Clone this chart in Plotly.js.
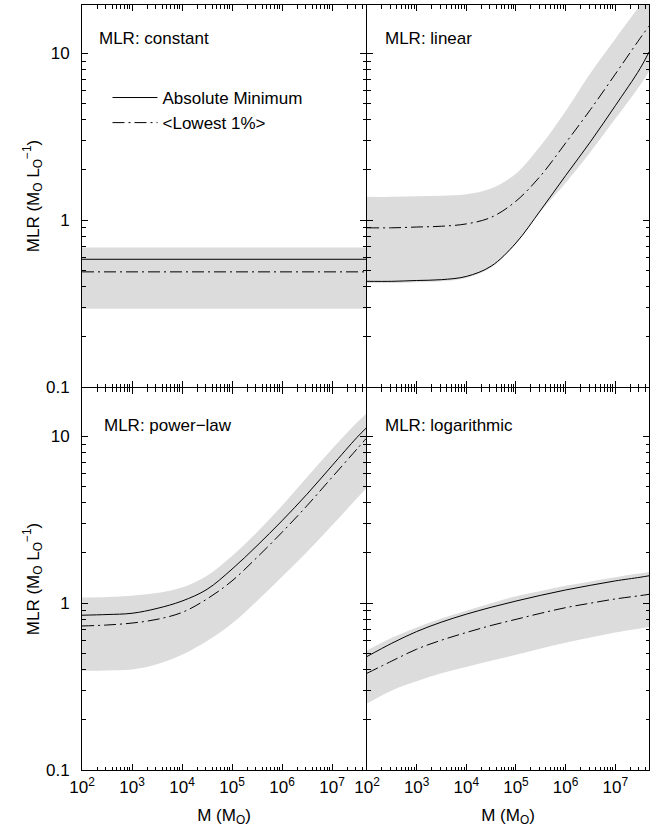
<!DOCTYPE html>
<html>
<head>
<meta charset="utf-8">
<script src="https://cdn.plot.ly/plotly-3.0.1.min.js"></script>
<style>html,body{margin:0;padding:0;background:#fff;}#chart{width:657px;height:829px;}</style>
</head>
<body>
<div id="chart"></div>
<script>
// Mass grid (solar masses)
const massM = [1e2, 3.16e2, 1e3, 3.16e3, 1e4, 3.16e4, 1e5, 3.16e5, 1e6, 3.16e6, 1e7, 3.16e7, 4.8e7];
const massConst = [1e2, 4.8e7];

// Panel: constant
const constAbsMin = [0.583, 0.583];
const constLow1 = [0.49, 0.49];
const constBandTop = [0.686, 0.686];
const constBandBot = [0.295, 0.295];

// Panel: linear
const linAbsMin = [0.43, 0.43, 0.435, 0.44, 0.46, 0.53, 0.73, 1.15, 1.85, 2.95, 4.85, 8.1, 10.2];
const linLow1 = [0.90, 0.90, 0.91, 0.92, 0.95, 1.04, 1.3, 1.85, 2.9, 4.6, 7.5, 12.3, 14.6];
const linBandTop = [1.38, 1.38, 1.39, 1.40, 1.43, 1.55, 1.9, 2.8, 4.5, 7.6, 12.2, 19.4, 23];
const linBandBot = [0.42, 0.42, 0.425, 0.43, 0.45, 0.52, 0.72, 1.13, 1.67, 2.56, 4.05, 6.45, 7.8];

// Panel: power-law
const powAbsMin = [0.847, 0.855, 0.87, 0.93, 1.03, 1.21, 1.6, 2.21, 3.12, 4.5, 6.67, 9.86, 11.2];
const powLow1 = [0.73, 0.74, 0.76, 0.80, 0.88, 1.06, 1.36, 1.88, 2.66, 3.84, 5.68, 8.4, 9.7];
const powBandTop = [1.08, 1.09, 1.11, 1.15, 1.24, 1.46, 1.92, 2.66, 3.84, 5.68, 8.4, 12.1, 13.7];
const powBandBot = [0.393, 0.395, 0.40, 0.43, 0.49, 0.593, 0.755, 1.03, 1.44, 2.03, 2.92, 4.26, 4.86];

// Panel: logarithmic
const logAbsMin = [0.479, 0.575, 0.676, 0.77, 0.859, 0.945, 1.03, 1.115, 1.2, 1.28, 1.36, 1.43, 1.46];
const logLow1 = [0.38, 0.45, 0.53, 0.60, 0.667, 0.735, 0.80, 0.87, 0.94, 1.0, 1.06, 1.11, 1.13];
const logBandTop = [0.52, 0.62, 0.715, 0.81, 0.9, 1.0, 1.1, 1.185, 1.27, 1.35, 1.43, 1.51, 1.54];
const logBandBot = [0.25, 0.30, 0.34, 0.38, 0.415, 0.452, 0.49, 0.535, 0.58, 0.622, 0.667, 0.705, 0.72];

// Tick labels
const xTickVals = [1e2, 1e3, 1e4, 1e5, 1e6, 1e7];
const xTickText = ['10<sup>2</sup>', '10<sup>3</sup>', '10<sup>4</sup>', '10<sup>5</sup>', '10<sup>6</sup>', '10<sup>7</sup>'];
const yTickVals = [0.1, 1, 10];
const yTickText = ['0.1', '1', '10'];

const panelLabels = ["MLR: constant", "MLR: linear", "MLR: power\u2212law", "MLR: logarithmic"];
const seriesNames = ["Absolute Minimum", "&lt;Lowest 1%&gt;"];

const BAND = '#dcdcdc';
const DASHDOT = '12px,4px,2px,4px';

const panels = [
  {x: massConst, a: constAbsMin, l: constLow1, t: constBandTop, b: constBandBot, xa: 'x', ya: 'y'},
  {x: massM, a: linAbsMin, l: linLow1, t: linBandTop, b: linBandBot, xa: 'x2', ya: 'y2'},
  {x: massM, a: powAbsMin, l: powLow1, t: powBandTop, b: powBandBot, xa: 'x3', ya: 'y3'},
  {x: massM, a: logAbsMin, l: logLow1, t: logBandTop, b: logBandBot, xa: 'x4', ya: 'y4'}
];

const traces = [];
panels.forEach((p) => {
  traces.push({x: p.x, y: p.b, xaxis: p.xa, yaxis: p.ya, mode: 'lines', line: {width: 0, shape: 'spline', color: BAND}, showlegend: false, hoverinfo: 'skip'});
  traces.push({x: p.x, y: p.t, xaxis: p.xa, yaxis: p.ya, mode: 'lines', line: {width: 0, shape: 'spline', color: BAND}, fill: 'tonexty', fillcolor: BAND, showlegend: false, hoverinfo: 'skip'});
});
panels.forEach((p, i) => {
  traces.push({x: p.x, y: p.a, xaxis: p.xa, yaxis: p.ya, mode: 'lines', name: seriesNames[0], line: {color: '#000', width: 1, shape: 'spline'}, showlegend: i === 0});
  traces.push({x: p.x, y: p.l, xaxis: p.xa, yaxis: p.ya, mode: 'lines', name: seriesNames[1], line: {color: '#000', width: 1, dash: DASHDOT, shape: 'spline'}, showlegend: i === 0});
});

// minor tick positions (2..9 within each decade)
const minorX = [], minorY = [];
for (let d = 2; d <= 7; d++) for (let k = 2; k <= 9; k++) minorX.push(k * Math.pow(10, d));
for (let d = -1; d <= 1; d++) for (let k = 2; k <= 9; k++) minorY.push(k * Math.pow(10, d));

const FONT = 'Liberation Sans, Arial, Helvetica, sans-serif';
const FS = 17;
const W = 567, H = 765;
const xLeftEnd = (366 - 82) / W, xRightStart = (367 - 82) / W;
const yTopStart = (770 - 387) / H, yBotEnd = (770 - 388) / H;

function xaxis(domain, anchor, labels) {
  return {
    type: 'log', range: [2, 7.68], domain: domain, anchor: anchor,
    showline: true, linecolor: '#000', linewidth: 1, mirror: 'allticks',
    ticks: 'inside', ticklen: 6, tickcolor: '#000', tickwidth: 1,
    tickmode: 'array', tickvals: xTickVals, ticktext: xTickText,
    minor: {ticks: 'inside', ticklen: 3.5, tickcolor: '#000', tickwidth: 1, tickmode: 'array', tickvals: minorX, showgrid: false},
    showgrid: false, zeroline: false, showticklabels: labels, ticklabelstandoff: 2,
    tickfont: {size: FS, color: '#000', family: FONT},
    title: labels ? {text: 'M (M<sub>O</sub>)', font: {size: FS, color: '#000', family: FONT}, standoff: 12} : {text: ''}
  };
}
function yaxis(domain, anchor, labels) {
  return {
    type: 'log', range: [-1, 1.29], domain: domain, anchor: anchor,
    showline: true, linecolor: '#000', linewidth: 1, mirror: 'allticks',
    ticks: 'inside', ticklen: 6, tickcolor: '#000', tickwidth: 1,
    tickmode: 'array', tickvals: yTickVals, ticktext: yTickText,
    minor: {ticks: 'inside', ticklen: 3.5, tickcolor: '#000', tickwidth: 1, tickmode: 'array', tickvals: minorY, showgrid: false},
    showgrid: false, zeroline: false, showticklabels: labels, ticklabelstandoff: 8,
    tickfont: {size: FS, color: '#000', family: FONT},
    title: labels ? {text: 'MLR (M<sub>O</sub> L<sub>O</sub><sup>\u22121</sup>)', font: {size: FS, color: '#000', family: FONT}, standoff: 2} : {text: ''}
  };
}

const annPos = [
  {xr: 'x domain', yr: 'y domain', x: 0.054, y: 0.911},
  {xr: 'x2 domain', yr: 'y2 domain', x: 0.056, y: 0.911},
  {xr: 'x3 domain', yr: 'y3 domain', x: 0.07, y: 0.903},
  {xr: 'x4 domain', yr: 'y4 domain', x: 0.056, y: 0.903}
];

const layout = {
  width: 657, height: 829,
  margin: {l: 82, r: 8, t: 5, b: 59},
  paper_bgcolor: '#fff', plot_bgcolor: 'rgba(0,0,0,0)',
  font: {family: FONT, size: FS, color: '#000'},
  showlegend: true,
  legend: {x: 0.045, y: 0.902, xanchor: 'left', yanchor: 'top', bgcolor: 'rgba(0,0,0,0)', borderwidth: 0,
           traceorder: 'normal', font: {size: FS, family: FONT, color: '#000'}, itemwidth: 45, tracegroupgap: 0},
  xaxis: xaxis([0, xLeftEnd], 'y', false),
  yaxis: yaxis([yTopStart, 1], 'x', true),
  xaxis2: xaxis([xRightStart, 1], 'y2', false),
  yaxis2: yaxis([yTopStart, 1], 'x2', false),
  xaxis3: xaxis([0, xLeftEnd], 'y3', true),
  yaxis3: yaxis([0, yBotEnd], 'x3', true),
  xaxis4: xaxis([xRightStart, 1], 'y4', true),
  yaxis4: yaxis([0, yBotEnd], 'x4', false),
  annotations: panelLabels.map((t, i) => ({
    text: t, xref: annPos[i].xr, yref: annPos[i].yr, x: annPos[i].x, y: annPos[i].y,
    xanchor: 'left', yanchor: 'middle', showarrow: false, font: {size: FS, family: FONT, color: '#000'}
  }))
};

Plotly.newPlot('chart', traces, layout, {displayModeBar: false, staticPlot: true});
</script>
</body>
</html>
